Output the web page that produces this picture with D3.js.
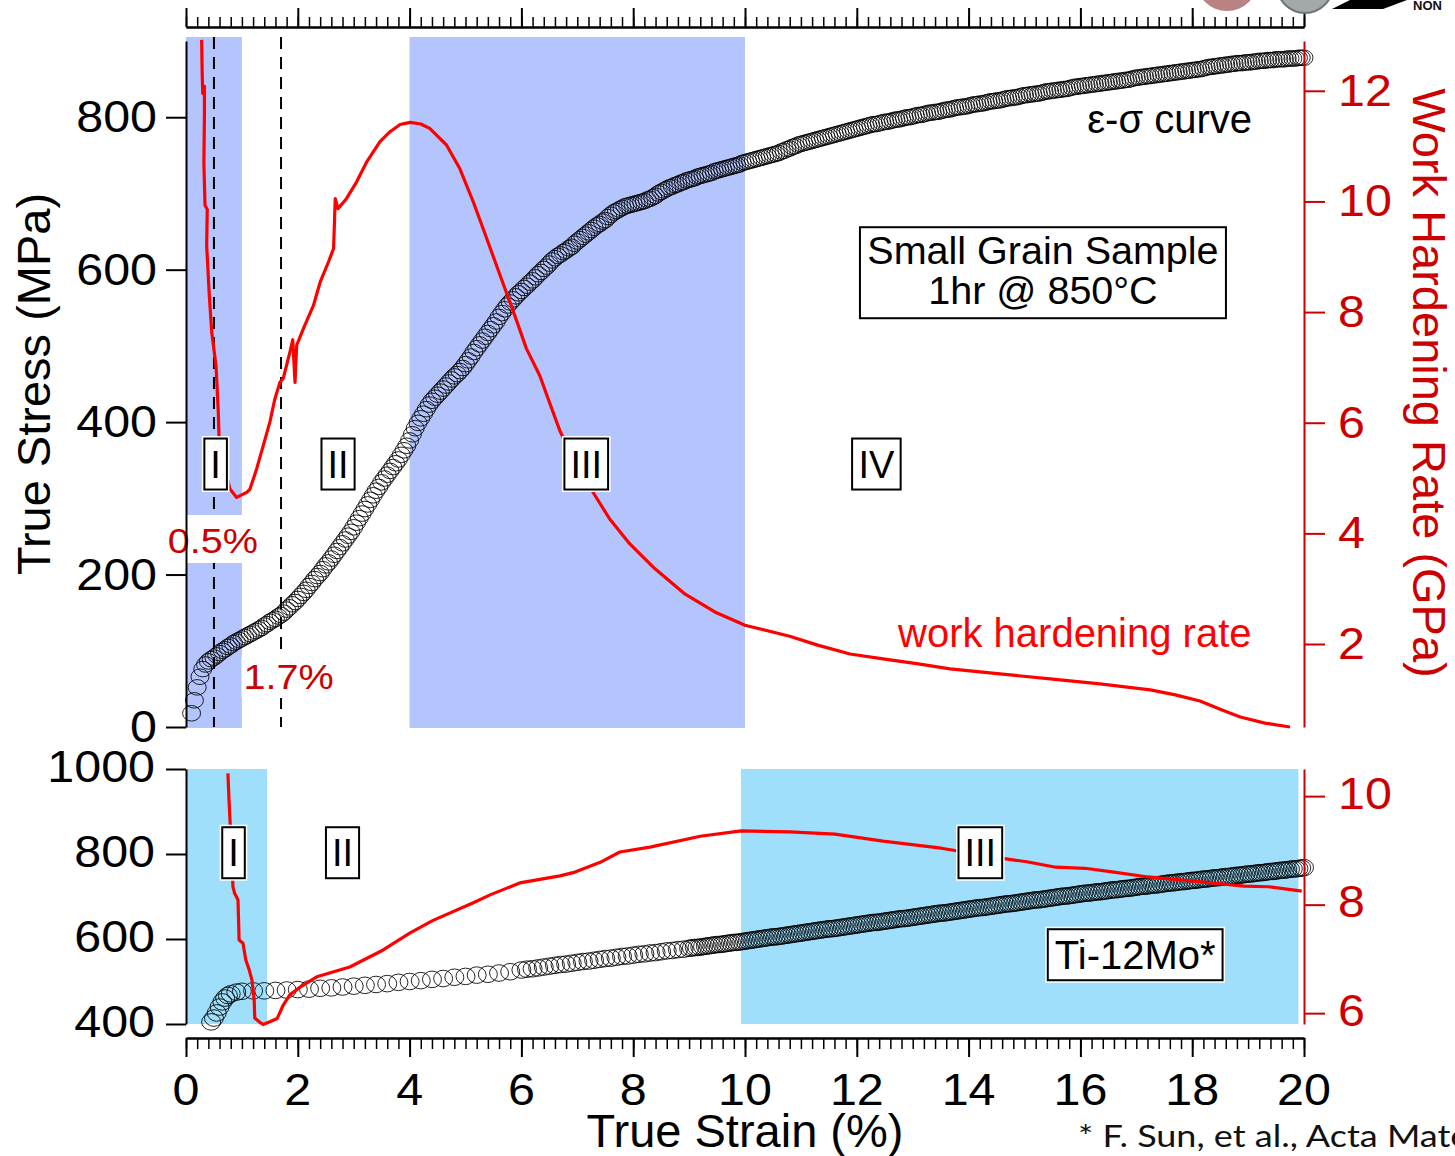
<!DOCTYPE html>
<html>
<head>
<meta charset="utf-8">
<script src="https://cdn.jsdelivr.net/npm/d3@7"></script>
<style>
  html, body { margin: 0; padding: 0; background: #fff; overflow: hidden; }
  svg { display: block; }
</style>
</head>
<body>
<svg id="chart" width="1455" height="1156"></svg>
<script>
// ---------- axis ticks ----------
const strainTicks = [0, 2, 4, 6, 8, 10, 12, 14, 16, 18, 20];
const topStressTicks = [0, 200, 400, 600, 800];
const topRateTicks = [2, 4, 6, 8, 10, 12];
const botStressTicks = [400, 600, 800, 1000];
const botRateTicks = [6, 8, 10];

// ---------- stage regions (strain %) ----------
const topStages = [[0, 1], [4, 10]];
const botStages = [[0, 1.45], [9.93, 19.9]];
const markerStrains = [0.5, 1.7];
const markerLabels = ['0.5%', '1.7%'];

// ---------- small grain sample: true strain (%) ----------
const topStrain = [
  0.1,0.15,0.2,0.25,0.3,0.35,0.4,0.45,
  0.5,0.55,0.6,0.65,0.7,0.75,0.8,0.85,0.9,0.95,
  1.0,1.05,1.1,1.15,1.2,1.25,1.3,1.35,1.4,1.45,1.5,1.55,1.6,1.65,1.7,1.75,1.8,1.85,1.9,1.95,
  2.0,2.05,2.1,2.15,2.2,2.25,2.3,2.35,2.4,2.45,2.5,2.55,2.6,2.65,2.7,2.75,2.8,2.85,2.9,2.95,
  3.0,3.05,3.1,3.15,3.2,3.25,3.3,3.35,3.4,3.45,3.5,3.55,3.6,3.65,3.7,3.75,3.8,3.85,3.9,3.95,
  4.0,4.05,4.1,4.15,4.2,4.25,4.3,4.35,4.4,4.45,4.5,4.55,4.6,4.65,4.7,4.75,4.8,4.85,4.9,4.95,
  5.0,5.05,5.1,5.15,5.2,5.25,5.3,5.35,5.4,5.45,5.5,5.55,5.6,5.65,5.7,5.75,5.8,5.85,5.9,5.95,
  6.0,6.05,6.1,6.15,6.2,6.25,6.3,6.35,6.4,6.45,6.5,6.55,6.6,6.65,6.7,6.75,6.8,6.85,6.9,6.95,
  7.0,7.05,7.1,7.15,7.2,7.25,7.3,7.35,7.4,7.45,7.5,7.55,7.6,7.65,7.7,7.75,7.8,7.85,7.9,7.95,
  8.0,8.05,8.1,8.15,8.2,8.25,8.3,8.35,8.4,8.45,8.5,8.55,8.6,8.65,8.7,8.75,8.8,8.85,8.9,8.95,
  9.0,9.05,9.1,9.15,9.2,9.25,9.3,9.35,9.4,9.45,9.5,9.55,9.6,9.65,9.7,9.75,9.8,9.85,9.9,9.95,
  10.0,10.05,10.1,10.15,10.2,10.25,10.3,10.35,10.4,10.45,10.5,10.55,10.6,10.65,10.7,10.75,10.8,10.85,10.9,10.95,
  11.0,11.05,11.1,11.15,11.2,11.25,11.3,11.35,11.4,11.45,11.5,11.55,11.6,11.65,11.7,11.75,11.8,11.85,11.9,11.95,
  12.0,12.05,12.1,12.15,12.2,12.25,12.3,12.35,12.4,12.45,12.5,12.55,12.6,12.65,12.7,12.75,12.8,12.85,12.9,12.95,
  13.0,13.05,13.1,13.15,13.2,13.25,13.3,13.35,13.4,13.45,13.5,13.55,13.6,13.65,13.7,13.75,13.8,13.85,13.9,13.95,
  14.0,14.05,14.1,14.15,14.2,14.25,14.3,14.35,14.4,14.45,14.5,14.55,14.6,14.65,14.7,14.75,14.8,14.85,14.9,14.95,
  15.0,15.05,15.1,15.15,15.2,15.25,15.3,15.35,15.4,15.45,15.5,15.55,15.6,15.65,15.7,15.75,15.8,15.85,15.9,15.95,
  16.0,16.05,16.1,16.15,16.2,16.25,16.3,16.35,16.4,16.45,16.5,16.55,16.6,16.65,16.7,16.75,16.8,16.85,16.9,16.95,
  17.0,17.05,17.1,17.15,17.2,17.25,17.3,17.35,17.4,17.45,17.5,17.55,17.6,17.65,17.7,17.75,17.8,17.85,17.9,17.95,
  18.0,18.05,18.1,18.15,18.2,18.25,18.3,18.35,18.4,18.45,18.5,18.55,18.6,18.65,18.7,18.75,18.8,18.85,18.9,18.95,
  19.0,19.05,19.1,19.15,19.2,19.25,19.3,19.35,19.4,19.45,19.5,19.55,19.6,19.65,19.7,19.75,19.8,19.85,19.9,19.95,
  20.0];
// ---------- small grain sample: true stress (MPa) ----------
const topStress = [
  18,35,52,66,76,82,86,89,
  91,94,97,100,102,105,107,110,112,114,
  116,118,120,122,124,126,128,130,133,135,138,140,142,145,147,150,154,157,161,164,
  168,172,176,180,185,189,194,198,202,207,212,216,221,226,231,236,241,246,251,256,
  262,268,274,280,286,292,298,304,310,315,321,326,331,336,341,346,351,357,363,369,
  376,384,392,399,405,411,417,423,428,432,436,440,444,448,452,456,460,463,467,471,
  476,481,486,492,497,502,507,512,517,522,527,532,538,543,548,553,557,561,565,569,
  572,576,579,583,586,590,594,597,601,604,608,612,615,618,620,623,625,628,630,634,
  637,640,643,646,649,652,655,658,660,663,665,669,672,675,677,679,681,683,684,685,
  686,687,688,689,690,692,693,695,697,700,702,704,706,708,709,711,712,714,715,717,
  718,719,720,722,723,724,725,726,727,729,730,731,732,733,734,735,736,737,738,740,
  741,742,743,744,745,746,747,748,749,750,751,752,753,755,756,758,759,761,762,764,
  765,766,767,768,769,770,771,772,773,774,775,776,777,778,779,780,781,782,783,784,
  785,786,787,788,789,790,791,791,792,793,794,794,795,796,797,797,798,799,800,800,
  801,802,803,803,804,805,806,806,807,807,808,809,810,810,811,812,813,813,814,814,
  815,816,817,817,818,818,819,820,821,821,822,822,823,824,825,825,826,826,827,828,
  829,829,830,830,831,831,832,833,834,834,835,835,836,836,837,837,838,839,840,840,
  841,841,842,842,843,843,844,844,845,845,846,846,847,847,848,848,849,849,850,851,
  852,852,853,853,854,854,855,855,856,856,857,857,858,858,859,859,860,860,861,861,
  862,862,863,863,864,865,866,866,867,867,868,868,869,869,870,870,871,871,871,872,
  872,872,873,873,874,874,874,875,875,875,876,876,876,876,877,877,877,877,878,878,
  878];

// ---------- small grain sample: work hardening rate [strain %, GPa] ----------
const topRate = [[0.28,12.92],[0.29,12.3],[0.30,11.95],[0.33,12.08],[0.33,11.6],[0.32,10.7],[0.34,9.93],
  [0.38,9.86],[0.37,9.2],[0.417,8.30],[0.46,7.64],[0.537,7.03],[0.549,6.79],[0.578,6.19],[0.59,5.77],
  [0.65,5.4],[0.728,5.04],[0.787,4.80],[0.907,4.65],[1.086,4.74],[1.145,4.80],[1.265,5.17],[1.383,5.59],
  [1.50,6.01],[1.59,6.43],[1.68,6.73],[1.74,6.80],[1.86,7.28],[1.91,7.50],[1.95,6.73],[1.98,7.40],
  [2.10,7.70],[2.28,8.12],[2.40,8.54],[2.55,8.91],[2.64,9.15],[2.67,10.05],[2.72,9.87],[2.87,10.05],
  [3.05,10.35],[3.23,10.71],[3.47,11.08],[3.65,11.26],[3.83,11.39],[4.01,11.43],[4.20,11.40],[4.36,11.32],
  [4.66,11.02],[4.90,10.59],[5.14,9.99],[5.38,9.33],[5.62,8.66],[5.86,8.00],[6.09,7.34],[6.33,6.85],
  [6.48,6.43],[6.69,5.85],[7.0,5.2],[7.32,4.68],[7.58,4.26],[7.94,3.81],[8.39,3.36],[8.93,2.90],
  [9.46,2.58],[10.0,2.34],[10.8,2.14],[11.3,1.98],[11.88,1.82],[12.47,1.73],[13.1,1.64],[13.67,1.55],
  [14.56,1.46],[15.46,1.37],[16.35,1.28],[17.25,1.17],[17.7,1.08],[18.14,0.97],[18.5,0.82],[18.86,0.68],
  [19.30,0.57],[19.75,0.50]];

// ---------- Ti-12Mo: true strain (%) ----------
const botStrain = [
  0.45,0.5,0.55,0.6,0.65,0.7,0.75,0.8,0.9,
  1.0,1.2,1.4,1.6,1.8,2.0,2.2,2.4,2.6,2.8,3.0,3.2,3.4,3.6,3.8,4.0,4.2,4.4,4.6,4.8,5.0,5.2,5.4,5.6,5.8,
  6.0,6.1,6.2,6.3,6.4,6.5,6.6,6.7,6.8,6.9,7.0,7.1,7.2,7.3,7.4,7.5,7.6,7.7,7.8,7.9,
  8.0,8.1,8.2,8.3,8.4,8.5,8.6,8.7,8.8,8.9,
  9.0,9.05,9.1,9.15,9.2,9.25,9.3,9.35,9.4,9.45,9.5,9.55,9.6,9.65,9.7,9.75,9.8,9.85,9.9,9.95,
  10.0,10.05,10.1,10.15,10.2,10.25,10.3,10.35,10.4,10.45,10.5,10.55,10.6,10.65,10.7,10.75,10.8,10.85,10.9,10.95,
  11.0,11.05,11.1,11.15,11.2,11.25,11.3,11.35,11.4,11.45,11.5,11.55,11.6,11.65,11.7,11.75,11.8,11.85,11.9,11.95,
  12.0,12.05,12.1,12.15,12.2,12.25,12.3,12.35,12.4,12.45,12.5,12.55,12.6,12.65,12.7,12.75,12.8,12.85,12.9,12.95,
  13.0,13.05,13.1,13.15,13.2,13.25,13.3,13.35,13.4,13.45,13.5,13.55,13.6,13.65,13.7,13.75,13.8,13.85,13.9,13.95,
  14.0,14.05,14.1,14.15,14.2,14.25,14.3,14.35,14.4,14.45,14.5,14.55,14.6,14.65,14.7,14.75,14.8,14.85,14.9,14.95,
  15.0,15.05,15.1,15.15,15.2,15.25,15.3,15.35,15.4,15.45,15.5,15.55,15.6,15.65,15.7,15.75,15.8,15.85,15.9,15.95,
  16.0,16.05,16.1,16.15,16.2,16.25,16.3,16.35,16.4,16.45,16.5,16.55,16.6,16.65,16.7,16.75,16.8,16.85,16.9,16.95,
  17.0,17.05,17.1,17.15,17.2,17.25,17.3,17.35,17.4,17.45,17.5,17.55,17.6,17.65,17.7,17.75,17.8,17.85,17.9,17.95,
  18.0,18.05,18.1,18.15,18.2,18.25,18.3,18.35,18.4,18.45,18.5,18.55,18.6,18.65,18.7,18.75,18.8,18.85,18.9,18.95,
  19.0,19.05,19.1,19.15,19.2,19.25,19.3,19.35,19.4,19.45,19.5,19.55,19.6,19.65,19.7,19.75,19.8,19.85,19.9,19.95,
  20.0];
// ---------- Ti-12Mo: true stress (MPa) ----------
const botStress = [
  405,414,426,440,452,461,467,471,475,
  477,478,478,479,480,481,482,484,485,487,489,491,493,495,498,500,502,505,507,510,512,515,517,520,523,
  527,529,530,532,534,536,538,540,541,543,545,547,548,550,552,554,555,557,559,560,
  562,564,565,567,568,570,572,573,575,576,
  578,579,580,580,581,582,583,584,585,586,587,587,588,589,590,591,592,592,593,594,
  595,596,597,598,599,600,601,602,603,604,605,605,606,607,608,609,610,611,612,613,
  614,615,616,617,618,619,620,621,622,623,624,624,625,626,627,628,629,630,631,632,
  633,634,635,636,637,638,639,639,640,641,642,643,644,645,646,647,648,648,649,650,
  651,652,653,654,655,656,657,658,659,660,661,661,662,663,664,665,666,667,668,669,
  670,671,672,673,674,674,675,676,677,678,679,680,681,682,683,683,684,685,686,687,
  688,689,690,691,692,692,693,694,695,696,697,698,699,700,701,701,702,703,704,705,
  706,707,708,708,709,710,711,711,712,713,714,715,716,716,717,718,719,719,720,721,
  722,723,724,724,725,726,727,727,728,729,730,731,732,732,733,734,735,735,736,737,
  738,738,739,740,741,741,742,743,744,744,745,746,747,747,748,749,750,750,751,752,
  753,753,754,755,756,756,757,758,759,759,760,761,762,762,763,764,765,765,766,767,
  768];

// ---------- Ti-12Mo: work hardening rate [strain %, GPa] ----------
const botRate = [[0.75,10.42],[0.77,9.92],[0.79,9.50],[0.82,8.9],[0.84,8.33],[0.87,8.21],[0.93,8.09],
  [0.95,7.35],[1.02,7.29],[1.07,6.98],[1.13,6.80],[1.18,6.61],[1.22,6.24],[1.23,5.91],[1.31,5.84],
  [1.38,5.79],[1.50,5.84],[1.63,5.90],[1.74,6.15],[1.86,6.34],[2.04,6.48],[2.34,6.67],[2.93,6.85],
  [3.52,7.16],[4.01,7.48],[4.42,7.71],[5.13,8.03],[5.44,8.18],[5.97,8.40],[6.69,8.53],[6.96,8.60],
  [7.41,8.78],[7.76,8.97],[8.30,9.06],[9.20,9.26],[9.93,9.36],[10.8,9.34],[11.61,9.30],[12.47,9.17],
  [13.51,9.04],[14.70,8.84],[15.04,8.79],[15.56,8.69],[16.08,8.67],[16.60,8.60],[17.21,8.51],
  [18.16,8.42],[18.93,8.34],[19.36,8.33],[19.96,8.25]];

// ---------- layout ----------
const FONT = "'Liberation Sans', Arial, Helvetica, sans-serif";
const AXIS_RED = '#cc0000';
const LINE_RED = '#ff0000';
const TOP = { axisTop: 41, bandTop: 37, bottom: 727 };
const BOT = { top: 769, bottom: 1024, axisY: 1038 };

const svg = d3.select('#chart');

const x = d3.scaleLinear().domain([0, 20]).range([186, 1304]);
const yTopL = d3.scaleLinear().domain([0, 900]).range([TOP.bottom, TOP.axisTop]);
const yTopR = d3.scaleLinear().domain([0.5, 12.9]).range([TOP.bottom, TOP.axisTop]);
const yBotL = d3.scaleLinear().domain([400, 1000]).range([BOT.bottom, BOT.top]);
const yBotR = d3.scaleLinear().domain([5.8, 10.5]).range([BOT.bottom, BOT.top]);

function text(g, str, tx, ty, o = {}) {
  let tr = `translate(${tx},${ty})`;
  if (o.rot) tr += ` rotate(${o.rot})`;
  if (o.sx) tr += ` scale(${o.sx},1)`;
  const t = g.append('text').text(str)
    .attr('transform', tr)
    .attr('font-family', o.font || FONT)
    .attr('font-size', o.size || 40)
    .attr('fill', o.fill || '#000')
    .attr('text-anchor', o.anchor || 'start');
  if (o.weight) t.attr('font-weight', o.weight);
  return t;
}

// ---------- stage shading ----------
const shade = svg.append('g');
shade.selectAll('rect.top').data(topStages).join('rect')
  .attr('x', d => x(d[0])).attr('width', d => x(d[1]) - x(d[0]))
  .attr('y', TOP.bandTop).attr('height', TOP.bottom + 1 - TOP.bandTop)
  .attr('fill', '#b4c4fc');
shade.selectAll('rect.bot').data(botStages).join('rect')
  .attr('x', d => x(d[0])).attr('width', d => x(d[1]) - x(d[0]))
  .attr('y', BOT.top).attr('height', BOT.bottom - BOT.top)
  .attr('fill', '#9fdffc');

// dashed strain markers
svg.append('g').selectAll('line').data(markerStrains).join('line')
  .attr('x1', d => x(d)).attr('x2', d => x(d))
  .attr('y1', TOP.bandTop).attr('y2', TOP.bottom)
  .attr('stroke', '#000').attr('stroke-width', 2).attr('stroke-dasharray', '12,8');

// strain marker labels on a white backing
const pct = svg.append('g');
const pctLayout = [
  { dx: -1, base: 553, box: [-46, -38, 92, 48] },
  { dx: 7.5, base: 689, box: [-47, -32, 94, 41] }
];
markerStrains.forEach((s, i) => {
  const L = pctLayout[i], cx = x(s) + L.dx;
  pct.append('rect').attr('x', cx + L.box[0]).attr('y', L.base + L.box[1])
    .attr('width', L.box[2]).attr('height', L.box[3]).attr('fill', '#fff');
  text(pct, markerLabels[i], cx, L.base, { size: 36, fill: AXIS_RED, anchor: 'middle', sx: 1.1 });
});

// ---------- stress markers (open rings) ----------
const topPts = topStrain.map((s, i) => [s, topStress[i]]);
const botPts = botStrain.map((s, i) => [s, botStress[i]]);
svg.append('g').selectAll('ellipse').data(topPts).join('ellipse')
  .attr('cx', d => x(d[0])).attr('cy', d => yTopL(d[1])).attr('rx', 9).attr('ry', 7.8)
  .attr('fill', 'none').attr('stroke', '#000').attr('stroke-width', 1).attr('stroke-opacity', 0.85);
svg.append('g').selectAll('ellipse').data(botPts).join('ellipse')
  .attr('cx', d => x(d[0])).attr('cy', d => yBotL(d[1])).attr('rx', 9.5).attr('ry', 8.3)
  .attr('fill', 'none').attr('stroke', '#000').attr('stroke-width', 1).attr('stroke-opacity', 0.85);

// ---------- work hardening rate curves ----------
svg.append('path').datum(topRate)
  .attr('d', d3.line().x(d => x(d[0])).y(d => yTopR(d[1])))
  .attr('fill', 'none').attr('stroke', LINE_RED).attr('stroke-width', 3.2).attr('stroke-linejoin', 'round');
svg.append('path').datum(botRate)
  .attr('d', d3.line().x(d => x(d[0])).y(d => yBotR(d[1])))
  .attr('fill', 'none').attr('stroke', LINE_RED).attr('stroke-width', 3.2).attr('stroke-linejoin', 'round');

// ---------- boxed stage labels ----------
function boxLabel(str, cx, cy, size, h, pad) {
  const g = svg.append('g');
  const halo = g.append('rect').attr('fill', 'none').attr('stroke', '#fff').attr('stroke-width', 5);
  const box = g.append('rect').attr('fill', '#fff').attr('stroke', '#000').attr('stroke-width', 2);
  const t = text(g, str, cx, cy + size * 0.36, { size, anchor: 'middle' });
  const w = t.node().getBBox().width + pad;
  [halo, box].forEach(r => r.attr('x', cx - w / 2).attr('y', cy - h / 2).attr('width', w).attr('height', h));
}
boxLabel('I', x(0.53), yTopL(345), 38, 51, 12);
boxLabel('II', x(2.72), yTopL(345), 38, 51, 12);
boxLabel('III', x(7.16), yTopL(345), 38, 51, 12);
boxLabel('IV', x(12.35), yTopL(345), 38, 51, 12);
boxLabel('I', x(0.85), yBotL(803), 38, 51, 12);
boxLabel('II', x(2.8), yBotL(803), 38, 51, 12);
boxLabel('III', x(14.21), yBotL(803), 38, 51, 12);
boxLabel('Ti-12Mo*', x(16.98), yBotL(563), 40, 51, 14);

// sample description box
{
  const g = svg.append('g');
  const cx = x(15.33), cy = yTopL(596);
  g.append('rect').attr('x', cx - 183).attr('y', cy - 45.5).attr('width', 366).attr('height', 91)
    .attr('fill', '#fff').attr('stroke', '#000').attr('stroke-width', 2);
  text(g, 'Small Grain Sample', cx, cy - 8.5, { size: 38, anchor: 'middle', sx: 1.04 });
  text(g, '1hr @ 850°C', cx, cy + 31.5, { size: 38, anchor: 'middle', sx: 1.04 });
}

// curve captions
text(svg, 'ε-σ curve', 1252, 133, { size: 40, anchor: 'end' });
text(svg, 'work hardening rate', 898, 647, { size: 40, fill: LINE_RED });

// ---------- axes ----------
function styleAxis(g, color, tickW) {
  g.select('.domain').attr('stroke', color).attr('stroke-width', 2);
  g.selectAll('.tick line').attr('stroke', color).attr('stroke-width', tickW);
  g.selectAll('.tick text').remove();
}
const minorStrain = d3.range(0, 20.001, 0.2);

// bottom strain axis
let g = svg.append('g').attr('transform', `translate(0,${BOT.axisY})`)
  .call(d3.axisBottom(x).tickValues(minorStrain).tickSize(11).tickSizeOuter(0));
styleAxis(g, '#000', 1.5);
g = svg.append('g').attr('transform', `translate(0,${BOT.axisY})`)
  .call(d3.axisBottom(x).tickValues(strainTicks).tickSize(19).tickSizeOuter(0));
styleAxis(g, '#000', 2);
strainTicks.forEach(v => text(svg, String(v), x(v), 1105, { size: 44, anchor: 'middle', sx: 1.1 }));

// mirrored top strain axis
g = svg.append('g').attr('transform', 'translate(0,27)')
  .call(d3.axisTop(x).tickValues(minorStrain).tickSize(10).tickSizeOuter(0));
styleAxis(g, '#000', 1.5);
g = svg.append('g').attr('transform', 'translate(0,27)')
  .call(d3.axisTop(x).tickValues(strainTicks).tickSize(19).tickSizeOuter(0));
styleAxis(g, '#000', 2);

// stress axes
g = svg.append('g').attr('transform', `translate(${x(0)},0)`)
  .call(d3.axisLeft(yTopL).tickValues(topStressTicks).tickSize(20).tickSizeOuter(0));
styleAxis(g, '#000', 2);
topStressTicks.forEach(v => text(svg, String(v), 157, yTopL(v) + 15, { size: 44, anchor: 'end', sx: 1.1 }));

g = svg.append('g').attr('transform', `translate(${x(0)},0)`)
  .call(d3.axisLeft(yBotL).tickValues(botStressTicks).tickSize(20).tickSizeOuter(0));
styleAxis(g, '#000', 2);
botStressTicks.forEach(v => text(svg, String(v), 155, yBotL(v) + 13, { size: 44, anchor: 'end', sx: 1.1 }));

// work hardening rate axes
g = svg.append('g').attr('transform', `translate(${x(20)},0)`)
  .call(d3.axisRight(yTopR).tickValues(topRateTicks).tickSize(21).tickSizeOuter(0));
styleAxis(g, AXIS_RED, 2);
topRateTicks.forEach(v => text(svg, String(v), 1338, yTopR(v) + 15, { size: 44, fill: AXIS_RED, sx: 1.1 }));

g = svg.append('g').attr('transform', `translate(${x(20)},0)`)
  .call(d3.axisRight(yBotR).tickValues(botRateTicks).tickSize(21).tickSizeOuter(0));
styleAxis(g, AXIS_RED, 2);
botRateTicks.forEach(v => text(svg, String(v), 1338, yBotR(v) + 12.5, { size: 44, fill: AXIS_RED, sx: 1.1 }));

// axis titles
text(svg, 'True Stress (MPa)', 50, 384, { size: 47, anchor: 'middle', rot: -90 });
text(svg, 'Work Hardening Rate (GPa)', 1413, 383, { size: 47, anchor: 'middle', rot: 90, fill: AXIS_RED });
text(svg, 'True Strain (%)', 745, 1147, { size: 47, anchor: 'middle' });

// citation
text(svg, '* F. Sun, et al., Acta Mater.', 1078, 1147, { size: 30, font: "Lato, 'Open Sans', sans-serif", fill: '#111', sx: 1.2 });

// header logos, partly above the top edge
const logo = svg.append('g');
logo.append('circle').attr('cx', 1227).attr('cy', -20).attr('r', 31).attr('fill', '#b98383');
logo.append('circle').attr('cx', 1305).attr('cy', -15).attr('r', 28).attr('fill', '#a3a8aa').attr('stroke', '#6f7477').attr('stroke-width', 2);
logo.append('polygon').attr('points', '1350,0 1407,0 1383,9 1332,9').attr('fill', '#000');
text(logo, 'NON', 1413, 10, { size: 13, weight: 'bold', fill: '#111' });
</script>
</body>
</html>
